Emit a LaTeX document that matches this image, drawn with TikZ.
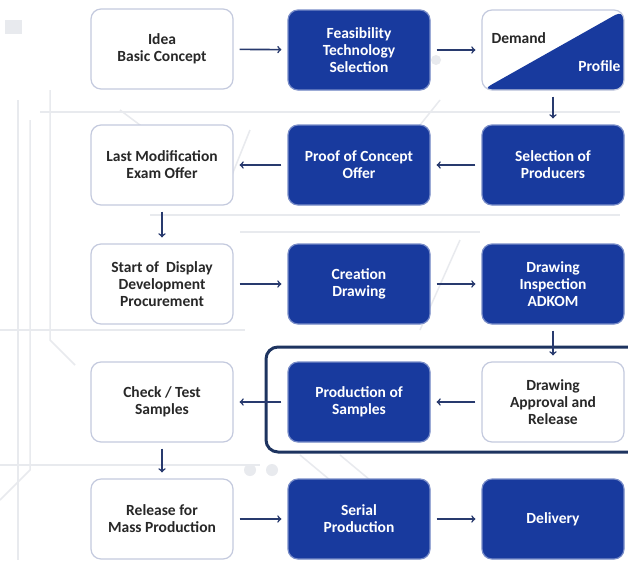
\documentclass[tikz,border=0pt]{standalone}
\usepackage{fontspec}
\setmainfont{Carlito}
\usetikzlibrary{arrows}
\usetikzlibrary{shapes}

\definecolor{boxBlue}{RGB}{24,58,158}
\definecolor{boxEdge}{RGB}{120,140,200}
\definecolor{paleEdge}{RGB}{196,202,222}
\definecolor{arrowNavy}{RGB}{40,58,110}
\definecolor{frameNavy}{RGB}{30,52,96}
\definecolor{textGray}{RGB}{40,40,40}
\definecolor{circuit}{RGB}{232,234,238}

\begin{document}
\begin{tikzpicture}[x = 1pt, y = -1pt, font=\bfseries]
	\tikzstyle{boxStyle} = [shape = rectangle, rounded corners = 10pt, minimum width = 142pt, minimum height = 80pt, align = center, font = \fontsize{15.5}{17}\selectfont\bfseries]
	\tikzstyle{whiteStyle} = [boxStyle, fill = white, draw = paleEdge, line width = 1.2pt, text = textGray]
	\tikzstyle{blueStyle} = [boxStyle, fill = boxBlue, draw = boxEdge, line width = 1.2pt, text = white]
	\tikzstyle{arrowStyle} = [->, >=to, draw = arrowNavy, line width = 1.6pt, shorten >= 6pt, shorten <= 6pt]
	\clip (0, 0) rectangle (628, 560);
	\fill[white] (0, 0) rectangle (628, 560);
	% faint circuit board behind the chart
	\begin{scope}[draw = circuit, line width = 1.5pt]
		\draw (18, 100) -- (18, 560);
		\draw (30, 120) -- (30, 470) -- (0, 500);
		\draw (50, 90) -- (50, 340) -- (75, 365);
		\draw (0, 330) -- (245, 330);
		\draw (40, 112) -- (620, 112);
		\draw (150, 215) -- (620, 215);
		\draw (240, 232) -- (480, 232);
		\draw (0, 465) -- (260, 465);
		\draw (120, 110) -- (160, 140);
		\draw (440, 100) -- (400, 150);
		\draw (460, 240) -- (420, 330);
		\draw (250, 130) -- (230, 180);
		\draw (300, 455) -- (330, 480);
		\draw (340, 455) -- (370, 480);
		\fill[circuit] (420, 60) circle (5) (436, 60) circle (5);
		\fill[circuit] (250, 470) circle (6) (272, 470) circle (6);
		\fill[circuit] (5, 20) rectangle (22, 34);
	\end{scope}
	% frame round the sample stage
	\draw[draw = frameNavy, line width = 3pt, rounded corners = 12pt] (266, 347) rectangle (660, 452);
	% row 1
	\node[whiteStyle] (idea) at (162, 49) {Idea\\Basic Concept};
	\node[blueStyle] (feas) at (359, 50) {Feasibility\\Technology\\Selection};
	\node[whiteStyle, path picture = {\fill[boxBlue] (path picture bounding box.south west) -- (path picture bounding box.north east) -- (path picture bounding box.south east) -- cycle;}] (demand) at (553, 50) {};
	\node[text = textGray, font = \fontsize{15.5}{17}\selectfont\bfseries, anchor = west] (demandText) at (488, 38) {Demand};
	\node[text = white, font = \fontsize{15.5}{17}\selectfont\bfseries, anchor = east] (profileText) at (624, 66) {Profile};
	% row 2
	\node[whiteStyle] (lastMod) at (162, 165) {Last Modification\\Exam Offer};
	\node[blueStyle] (proof) at (359, 165) {Proof of Concept\\Offer};
	\node[blueStyle] (select) at (553, 165) {Selection of\\Producers};
	% row 3
	\node[whiteStyle] (start) at (162, 284) {Start of\ \ Display\\Development\\Procurement};
	\node[blueStyle] (create) at (359, 284) {Creation\\Drawing};
	\node[blueStyle] (inspect) at (553, 284) {Drawing\\Inspection\\ADKOM};
	% row 4
	\node[whiteStyle] (check) at (162, 402) {Check / Test\\Samples};
	\node[blueStyle] (samples) at (359, 402) {Production of\\Samples};
	\node[whiteStyle] (approve) at (553, 402) {Drawing\\Approval and\\Release};
	% row 5
	\node[whiteStyle] (mass) at (162, 519) {Release for\\Mass Production};
	\node[blueStyle] (serial) at (359, 519) {Serial\\Production};
	\node[blueStyle] (deliver) at (553, 519) {Delivery};
	% flow
	\draw[arrowStyle] (idea) -- (feas);
	\draw[arrowStyle] (feas) -- (demand);
	\draw[arrowStyle] (demand) -- (select);
	\draw[arrowStyle] (select) -- (proof);
	\draw[arrowStyle] (proof) -- (lastMod);
	\draw[arrowStyle] (lastMod) -- (start);
	\draw[arrowStyle] (start) -- (create);
	\draw[arrowStyle] (create) -- (inspect);
	\draw[arrowStyle] (inspect) -- (approve);
	\draw[arrowStyle] (approve) -- (samples);
	\draw[arrowStyle] (samples) -- (check);
	\draw[arrowStyle] (check) -- (mass);
	\draw[arrowStyle] (mass) -- (serial);
	\draw[arrowStyle] (serial) -- (deliver);
\end{tikzpicture}
\end{document}
